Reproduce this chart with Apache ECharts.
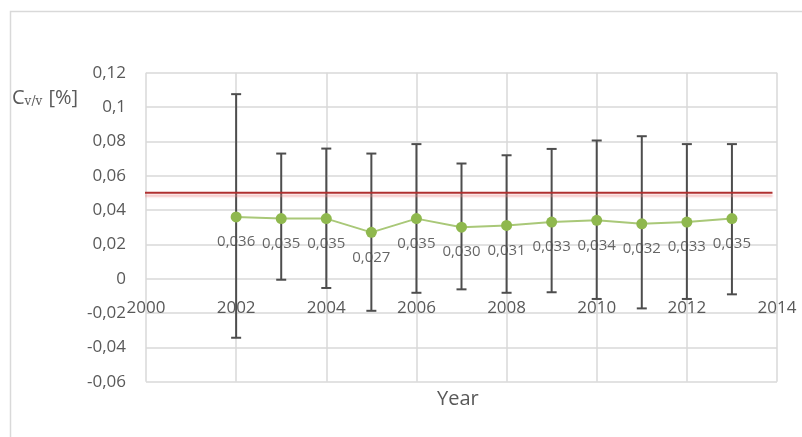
<!DOCTYPE html>
<html>
<head>
<meta charset="utf-8">
<script src="https://cdn.jsdelivr.net/npm/echarts@6/dist/echarts.min.js"></script>
<style>
  html, body { margin: 0; padding: 0; background: #fff; }
  #chart { width: 802px; height: 437px; }
</style>
</head>
<body>
<div id="chart"></div>
<script>
// Yearly coefficient of variation with its error range
const years = [2002, 2003, 2004, 2005, 2006, 2007, 2008, 2009, 2010, 2011, 2012, 2013];
const cvValues = [0.036, 0.035, 0.035, 0.027, 0.035, 0.030, 0.031, 0.033, 0.034, 0.032, 0.033, 0.035];
const errHigh = [0.1075, 0.0729, 0.0758, 0.0729, 0.0784, 0.0671, 0.0719, 0.0756, 0.0805, 0.0830, 0.0784, 0.0784];
const errLow = [-0.0344, -0.0006, -0.0054, -0.0187, -0.0082, -0.0062, -0.0082, -0.0079, -0.0118, -0.0173, -0.0118, -0.0091];
// Reference limit line
const limitValue = 0.05;
const limitSpan = [1999.9, 2013.9];
// Axis ticks
const xTicks = [2000, 2002, 2004, 2006, 2008, 2010, 2012, 2014];
const yTicks = [-0.06, -0.04, -0.02, 0, 0.02, 0.04, 0.06, 0.08, 0.1, 0.12];

const FONT = '"Open Sans", sans-serif';
const TEXT = '#595959';
const comma = v => String(Number(v.toFixed(3))).replace('.', ',');
const fmt3 = v => v.toFixed(3).replace('.', ',');

const points = years.map((y, i) => [y, cvValues[i]]);
const bars = years.map((y, i) => [y, errLow[i], errHigh[i]]);

// grid geometry: the year labels sit on the zero line, three steps above the bottom
const GRID = { left: 146, right: 25, top: 72.7, bottom: 55.3 };
const plotH = 437 - GRID.top - GRID.bottom;
const stepsBelowZero = -yTicks[0] / 0.02;
const zeroOffset = -plotH * stepsBelowZero / (yTicks.length - 1);

const chart = echarts.init(document.getElementById('chart'), null, { renderer: 'canvas' });

chart.setOption({
  backgroundColor: '#ffffff',
  animation: false,
  textStyle: { fontFamily: FONT },
  graphic: [
    {
      type: 'rect',
      shape: { x: 10.5, y: 11.5, width: 800, height: 430 },
      style: { fill: 'none', stroke: '#d9d9d9', lineWidth: 1.5 },
      silent: true,
      z: -10
    },
    {
      type: 'text',
      left: 12,
      top: 88,
      style: {
        text: '{a|C}{s|v/v}{a| [%]}',
        rich: {
          a: { fontSize: 20, fill: TEXT, fontFamily: FONT },
          s: { fontSize: 12, fill: TEXT, fontFamily: '"DejaVu Serif", serif', padding: [8, 1, 0, 0] }
        }
      }
    },
    {
      type: 'text',
      left: 437,
      top: 389,
      style: { text: 'Year', fontSize: 20, fill: TEXT, fontFamily: FONT }
    }
  ],
  grid: Object.assign({ containLabel: false, outerBoundsMode: 'none' }, GRID),
  xAxis: [
    {
      type: 'value',
      min: xTicks[0],
      max: xTicks[xTicks.length - 1],
      interval: 2,
      axisLine: { show: false, onZero: false },
      axisTick: { show: false },
      axisLabel: { show: false },
      splitLine: { show: true, lineStyle: { color: '#d9d9d9', width: 1.5 } }
    },
    {
      // year labels along the zero line
      type: 'value',
      position: 'bottom',
      offset: zeroOffset,
      min: xTicks[0],
      max: xTicks[xTicks.length - 1],
      interval: 2,
      axisLine: { show: false, onZero: false },
      axisTick: { show: false },
      splitLine: { show: false },
      axisLabel: { color: TEXT, fontSize: 17, margin: 21, fontFamily: FONT, formatter: v => String(v) }
    }
  ],
  yAxis: {
    type: 'value',
    min: yTicks[0],
    max: yTicks[yTicks.length - 1],
    interval: 0.02,
    axisLine: { show: false, onZero: false },
    axisTick: { show: false },
    axisLabel: { color: TEXT, fontSize: 17, margin: 20, fontFamily: FONT, formatter: comma },
    splitLine: { show: true, lineStyle: { color: '#d9d9d9', width: 1.5 } }
  },
  series: [
    {
      // value labels, placed under the error bars
      type: 'scatter',
      data: points,
      symbolSize: 11,
      itemStyle: { color: 'rgba(0,0,0,0)' },
      z: 2,
      label: {
        show: true,
        position: 'bottom',
        distance: 12,
        color: '#404040',
        fontSize: 15,
        fontFamily: FONT,
        formatter: p => fmt3(p.value[1])
      },
      silent: true
    },
    {
      type: 'custom',
      z: 3,
      data: bars,
      renderItem: (params, api) => {
        const x = api.value(0);
        const lo = api.coord([x, api.value(1)]);
        const hi = api.coord([x, api.value(2)]);
        const cap = 5;
        const st = { stroke: '#4d4d4d', lineWidth: 2 };
        return {
          type: 'group',
          children: [
            { type: 'line', shape: { x1: lo[0], y1: lo[1], x2: hi[0], y2: hi[1] }, style: st },
            { type: 'line', shape: { x1: hi[0] - cap, y1: hi[1], x2: hi[0] + cap, y2: hi[1] }, style: st },
            { type: 'line', shape: { x1: lo[0] - cap, y1: lo[1], x2: lo[0] + cap, y2: lo[1] }, style: st }
          ]
        };
      }
    },
    {
      type: 'line',
      data: limitSpan.map(x => [x, limitValue]),
      symbol: 'none',
      z: 3,
      lineStyle: {
        color: '#b03030',
        width: 2,
        shadowColor: 'rgba(235,130,130,0.55)',
        shadowBlur: 2,
        shadowOffsetY: 3
      },
      silent: true
    },
    {
      type: 'line',
      data: points,
      z: 4,
      symbol: 'circle',
      symbolSize: 11,
      lineStyle: { color: '#a9c878', width: 2 },
      itemStyle: { color: '#8fb84e' },
      label: { show: false },
      silent: true
    }
  ]
});
</script>
</body>
</html>
